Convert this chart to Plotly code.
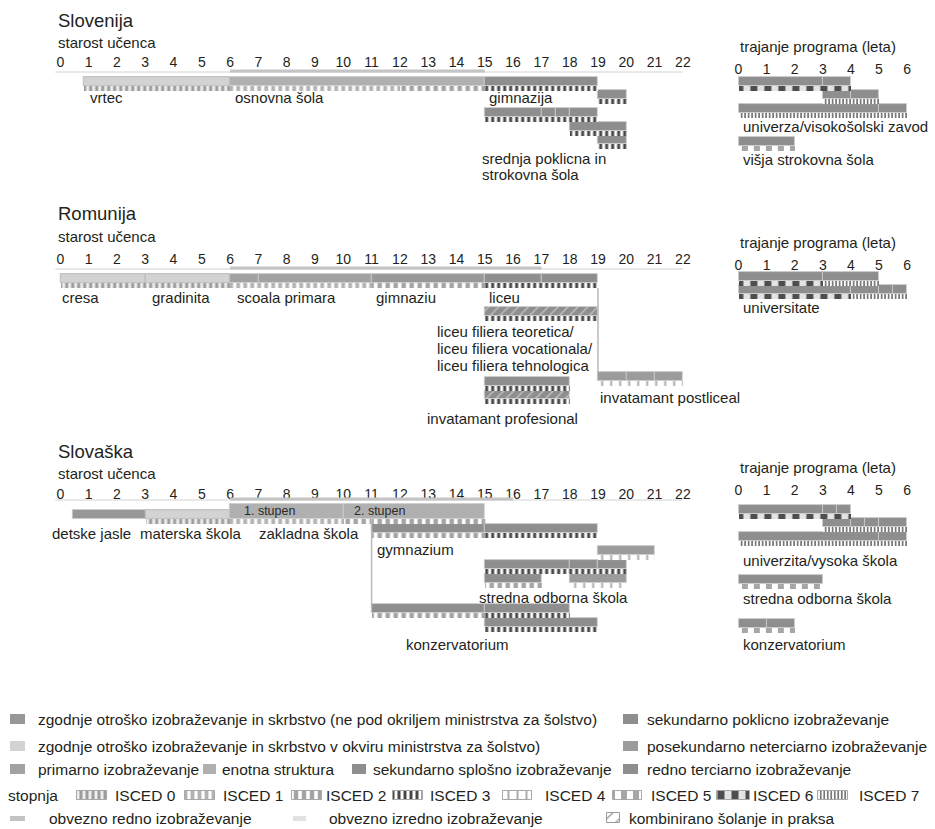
import plotly.graph_objects as go

W, H = 935, 829

# ============================ DATA ============================
AGE_TICKS = list(range(0, 23))          # starost učenca
DUR_TICKS = list(range(0, 7))           # trajanje programa (leta)

# compulsory full-time education (from age, to age)
SI_COMPULSORY = (6, 15)
RO_COMPULSORY = (6, 17)
SK_COMPULSORY = (6, 16)

# programme bars: (lane, start, end, category, combined school + work)
SI_BARS = [
    ("a", 0.83, 6, "ecec_min", False),
    ("a", 6, 15, "single", False),
    ("a", 15, 19, "sec_gen", False),
    ("b", 19, 20, "sec_gen", False),
    ("c", 15, 17, "sec_voc", False),
    ("c", 17, 17.5, "sec_voc", False),
    ("c", 17.5, 18, "sec_voc", False),
    ("c", 18, 19, "sec_voc", False),
    ("d", 18, 20, "sec_voc", False),
    ("e", 19, 20, "sec_voc", False),
]
# ISCED stripes: (lane, start, end, isced level)
SI_ISCED = [
    ("a", 0.83, 6, 0), ("a", 6, 12, 1), ("a", 12, 15, 2), ("a", 15, 19, 3),
    ("b", 19, 20, 3), ("c", 15, 19, 3), ("d", 18, 20, 3), ("e", 19, 20, 3),
]
SI_DUR_BARS = [
    ("a", 0, 3, "tert", False), ("a", 3, 4, "tert", False),
    ("b", 3, 4, "tert", False), ("b", 4, 5, "tert", False),
    ("c", 0, 5, "tert", False), ("c", 5, 6, "tert", False),
    ("d", 0, 2, "tert", False),
]
SI_DUR_ISCED = [("a", 0, 4, 6), ("b", 3, 5, 7), ("c", 0, 6, 7), ("d", 0, 2, 5)]

RO_BARS = [
    ("a", 0, 3, "ecec_min", False), ("a", 3, 6, "ecec_min", False),
    ("a", 6, 7, "primary", False), ("a", 7, 11, "primary", False),
    ("a", 11, 15, "lower_sec", False),
    ("a", 15, 17, "sec_gen", False), ("a", 17, 19, "sec_gen", False),
    ("b", 15, 19, "sec_gen", True),
    ("c", 15, 18, "sec_voc", False),
    ("d", 15, 18, "sec_voc", True),
    ("p", 19, 20, "post_sec", False), ("p", 20, 21, "post_sec", False),
    ("p", 21, 22, "post_sec", False),
]
RO_ISCED = [
    ("a", 0, 3, 0), ("a", 3, 6, 0), ("a", 6, 11, 1), ("a", 11, 15, 2),
    ("a", 15, 19, 3), ("b", 15, 19, 3), ("c", 15, 18, 3), ("d", 15, 18, 3),
    ("p", 19, 22, 4),
]
RO_DUR_BARS = [
    ("a", 0, 3, "tert", False), ("a", 3, 5, "tert", False),
    ("b", 0, 4, "tert", False), ("b", 4, 5, "tert", False),
    ("b", 5, 5.5, "tert", False), ("b", 5.5, 6, "tert", False),
]
RO_DUR_ISCED = [("a", 0, 3, 6), ("a", 3, 5, 7), ("b", 0, 4, 6), ("b", 4, 6, 7)]

SK_BARS = [
    ("a", 0.45, 3, "ecec_other", False), ("a", 3, 6, "ecec_min", False),
    ("z", 6, 10, "single", False), ("z", 10, 15, "single", False),
    ("b", 11, 15, "sec_gen", False), ("b", 15, 19, "sec_gen", False),
    ("c", 19, 21, "post_sec", False),
    ("d", 15, 18, "sec_voc", False), ("d", 18, 19, "sec_voc", False),
    ("d", 19, 20, "sec_voc", False),
    ("e", 15, 17, "sec_voc", False), ("e", 18, 20, "post_sec", False),
    ("f", 11, 15, "sec_voc", False), ("f", 15, 18, "sec_voc", False),
    ("g", 15, 19, "sec_voc", False),
]
SK_ISCED = [
    ("a", 3, 6, 0), ("z", 6, 10, 1), ("z", 10, 15, 2),
    ("b", 11, 15, 2), ("b", 15, 19, 3), ("c", 19, 21, 4),
    ("d", 15, 20, 3), ("e", 15, 17, 2), ("e", 18, 20, 4),
    ("f", 11, 15, 2), ("f", 15, 18, 3), ("g", 15, 19, 3),
]
SK_DUR_BARS = [
    ("a", 0, 3, "tert", False), ("a", 3, 3.5, "tert", False), ("a", 3.5, 4, "tert", False),
    ("b", 3, 4, "tert", False), ("b", 4, 4.5, "tert", False), ("b", 4.5, 5, "tert", False),
    ("b", 5, 6, "tert", False),
    ("c", 0, 5, "tert", False), ("c", 5, 6, "tert", False),
    ("d", 0, 3, "tert", False),
    ("e", 0, 1, "tert", False), ("e", 1, 2, "tert", False),
]
SK_DUR_ISCED = [("a", 0, 4, 6), ("b", 3, 6, 7), ("c", 0, 6, 7), ("d", 0, 3, 5), ("e", 0, 2, 5)]

CATEGORY_LABELS = {
    "ecec_other": "zgodnje otroško izobraževanje in skrbstvo (ne pod okriljem ministrstva za šolstvo)",
    "ecec_min": "zgodnje otroško izobraževanje in skrbstvo v okviru ministrstva za šolstvo)",
    "primary": "primarno izobraževanje",
    "single": "enotna struktura",
    "sec_gen": "sekundarno splošno izobraževanje",
    "sec_voc": "sekundarno poklicno izobraževanje",
    "post_sec": "posekundarno neterciarno izobraževanje",
    "tert": "redno terciarno izobraževanje",
}
ISCED_LEVELS = [0, 1, 2, 3, 4, 5, 6, 7]
OTHER_LABELS = ["obvezno redno izobraževanje", "obvezno izredno izobraževanje",
                "kombinirano šolanje in praksa"]

# ============================ STYLE / LAYOUT ============================
FONT = "Liberation Sans, Arial, Helvetica, sans-serif"
TXT = "#231f20"
LBL = 15            # programme label size
LEG = 15.5          # legend text size
FILL = {
    "ecec_other": "#979797", "ecec_min": "#d3d3d3", "primary": "#a2a2a2",
    "lower_sec": "#999999", "single": "#b0b0b0", "sec_gen": "#8e8e8e",
    "sec_voc": "#8e8e8e", "post_sec": "#9c9c9c", "tert": "#8e8e8e",
}
ISCED_STYLE = {
    0: dict(fgcolor="#9c9c9c", bgcolor="#eeeeee", size=6, solidity=0.5),
    1: dict(fgcolor="#b3b3b3", bgcolor="#ffffff", size=7, solidity=0.55),
    2: dict(fgcolor="#ffffff", bgcolor="#a4a4a4", size=8, solidity=0.45),
    3: dict(fgcolor="#474747", bgcolor="#ffffff", size=6, solidity=0.5),
    4: dict(fgcolor="#acacac", bgcolor="#ffffff", size=9, solidity=0.22),
    5: dict(fgcolor="#ffffff", bgcolor="#a6a6a6", size=12, solidity=0.5),
    6: dict(fgcolor="#4d4d4d", bgcolor="#e3e3e3", size=14, solidity=0.5),
    7: dict(fgcolor="#6a6a6a", bgcolor="#ffffff", size=3.5, solidity=0.45),
}
TOP_H = 9.0
STRIPE_H = 4.5

# pixel geometry of the two scales
AGE0_PX, AGE_STEP = 60.3, 28.3
DUR0_PX, DUR_STEP = 738.5, 28.1
AGE_RANGE = [-2, 23]
DUR_RANGE = [-0.2, 6.5]
TICK_OFF = 9.5  # axis position below tick-label centre

PANELS = [
    dict(title="Slovenija", xa="x", xd="x2", bars=SI_BARS, isced=SI_ISCED,
         dbars=SI_DUR_BARS, disced=SI_DUR_ISCED, comp=SI_COMPULSORY,
         title_y=20, sub_y=42, tick_y=60, line_y=72, dtitle_y=46, dtick_y=67,
         lanes=dict(a=77, b=90, c=108, d=122, e=135),
         dlanes=dict(a=77, b=90, c=104, d=137),
         labels=[("vrtec", 0.98, 97), ("osnovna šola", 6.1, 97), ("gimnazija", 15.07, 97),
                 ("srednja poklicna in", 14.83, 158), ("strokovna šola", 14.83, 174)],
         dlabels=[("univerza/visokošolski zavod", 0.08, 126), ("višja strokovna šola", 0.08, 159)],
         connectors=[]),
    dict(title="Romunija", xa="x3", xd="x4", bars=RO_BARS, isced=RO_ISCED,
         dbars=RO_DUR_BARS, disced=RO_DUR_ISCED, comp=RO_COMPULSORY,
         title_y=213, sub_y=236, tick_y=257, line_y=269, dtitle_y=242, dtick_y=263,
         lanes=dict(a=274, b=307, c=377, d=390, p=372),
         dlanes=dict(a=272, b=285),
         labels=[("cresa", 0.0, 297), ("gradinita", 3.17, 297), ("scoala primara", 6.17, 297),
                 ("gimnaziu", 11.1, 297), ("liceu", 15.08, 297),
                 ("liceu filiera teoretica/", 13.24, 331),
                 ("liceu filiera vocationala/", 13.24, 348),
                 ("liceu filiera tehnologica", 13.24, 365),
                 ("invatamant profesional", 12.89, 418),
                 ("invatamant postliceal", 19.0, 397)],
         dlabels=[("universitate", 0.08, 307)],
         connectors=[(19, 288, 373)]),
    dict(title="Slovaška", xa="x5", xd="x6", bars=SK_BARS, isced=SK_ISCED,
         dbars=SK_DUR_BARS, disced=SK_DUR_ISCED, comp=SK_COMPULSORY,
         title_y=451, sub_y=473, tick_y=492, line_y=500, dtitle_y=467, dtick_y=488,
         lanes=dict(a=510, z=(504, 15), b=524, c=546, d=560, e=574, f=604, g=618),
         dlanes=dict(a=505, b=518, c=532, d=575, e=619),
         labels=[("detske jasle", -0.36, 533), ("materska škola", 2.75, 533),
                 ("zakladna škola", 6.94, 533), ("gymnazium", 11.12, 549),
                 ("stredna odborna škola", 14.72, 597), ("konzervatorium", 12.14, 644)],
         small=[("1. stupen", 6.42, 511), ("2. stupen", 10.3, 511)],
         dlabels=[("univerzita/vysoka škola", 0.08, 560), ("stredna odborna škola", 0.08, 598),
                  ("konzervatorium", 0.08, 644)],
         connectors=[(11, 519, 608), (15, 519, 524)]),
]

fig = go.Figure()


def lane_geom(lanes, key):
    v = lanes[key]
    if isinstance(v, tuple):
        return v
    return v, TOP_H


def add_rect(xa, x0, x1, y0, h, color, pattern=None, lw=0.0, lc=None):
    fig.add_trace(go.Bar(
        orientation="h", base=[x0], x=[x1 - x0], y=[y0 + h / 2], width=[h],
        xaxis=xa, yaxis="y",
        marker=dict(color=color, line=dict(width=lw, color=lc or color),
                    pattern=pattern if pattern else dict(shape="")),
        hoverinfo="skip", showlegend=False))


def isced_pattern(level):
    st = ISCED_STYLE[level]
    return dict(shape="|", fillmode="replace", **st)


def hatch_pattern(cat):
    return dict(shape="/", fillmode="replace", fgcolor="#bdbdbd",
                bgcolor=FILL[cat], size=7, solidity=0.22)


def edge_color(cat):
    return "#b2b2b2" if cat == "ecec_min" else "#cdcdcd"


def draw_bars(xa, bars, stripes, lanes):
    for lane, s, e, cat, comb in bars:
        top, th = lane_geom(lanes, lane)
        add_rect(xa, s, e, top, th, FILL[cat],
                 pattern=hatch_pattern(cat) if comb else None,
                 lw=0.8, lc=edge_color(cat))
    for lane, s, e, lev in stripes:
        top, th = lane_geom(lanes, lane)
        add_rect(xa, s, e, top + th, STRIPE_H, "#ffffff", pattern=isced_pattern(lev))


shapes = []
annotations = []


def text(x, y, s, xref, size=LBL, color=TXT, xanchor="left"):
    annotations.append(dict(x=x, y=y, xref=xref, yref="y", text=s, showarrow=False,
                            xanchor=xanchor, yanchor="middle",
                            font=dict(family=FONT, size=size, color=color)))


axes = {}
for i, p in enumerate(PANELS):
    draw_bars(p["xa"], p["bars"], p["isced"], p["lanes"])
    draw_bars(p["xd"], p["dbars"], p["disced"], p["dlanes"])

    # axis base line and compulsory line
    shapes.append(dict(type="line", xref=p["xa"], yref="y", x0=-0.18, x1=22,
                       y0=p["line_y"], y1=p["line_y"], line=dict(color="#d2d2d2", width=1)))
    c0, c1 = p["comp"]
    shapes.append(dict(type="line", xref=p["xa"], yref="y", x0=c0, x1=c1,
                       y0=p["line_y"] - 1, y1=p["line_y"] - 1,
                       line=dict(color="#c4c4c4", width=3)))
    for xc, ya, yb in p["connectors"]:
        shapes.append(dict(type="line", xref=p["xa"], yref="y", x0=xc, x1=xc,
                           y0=ya, y1=yb, line=dict(color="#b9b9b9", width=1.5)))

    text(56 / W, p["title_y"], p["title"], "paper", size=18.5)
    text(56 / W, p["sub_y"], "starost učenca", "paper", size=15)
    text(738 / W, p["dtitle_y"], "trajanje programa (leta)", "paper", size=15)
    for s, xv, yv in p["labels"]:
        text(xv, yv, s, p["xa"])
    for s, xv, yv in p.get("small", []):
        text(xv, yv, s, p["xa"], size=12.5, color="#2a2a2a")
    for s, xv, yv in p["dlabels"]:
        text(xv, yv, s, p["xd"])

    age_dom = [(AGE0_PX + AGE_STEP * AGE_RANGE[0]) / W, (AGE0_PX + AGE_STEP * AGE_RANGE[1]) / W]
    dur_dom = [(DUR0_PX + DUR_STEP * DUR_RANGE[0]) / W, (DUR0_PX + DUR_STEP * DUR_RANGE[1]) / W]
    common = dict(side="top", anchor="free", showgrid=False, zeroline=False, showline=False,
                  ticks="", tickmode="array", fixedrange=True,
                  tickfont=dict(family=FONT, size=14, color=TXT))
    age_ax = dict(common, domain=age_dom, range=AGE_RANGE, tickvals=AGE_TICKS,
                  ticktext=[str(t) for t in AGE_TICKS],
                  position=1 - (p["tick_y"] + TICK_OFF) / H)
    dur_ax = dict(common, domain=dur_dom, range=DUR_RANGE, tickvals=DUR_TICKS,
                  ticktext=[str(t) for t in DUR_TICKS],
                  position=1 - (p["dtick_y"] + TICK_OFF) / H)
    if i > 0:
        age_ax["overlaying"] = "x"
        dur_ax["overlaying"] = "x2"
    axes["xaxis" if i == 0 else "xaxis%d" % (2 * i + 1)] = age_ax
    axes["xaxis%d" % (2 * i + 2)] = dur_ax

# ---------------- legend (own pixel-scaled axis x7) ----------------
LX = "x7"
ROW_Y = [719, 746, 769, 795, 818]
cat_items = [  # (category, swatch x0, swatch x1, text x, row)
    ("ecec_other", 10, 25, 36, 0), ("sec_voc", 623, 638, 645, 0),
    ("ecec_min", 10, 25, 36, 1), ("post_sec", 623, 638, 645, 1),
    ("primary", 10, 25, 36, 2), ("single", 203, 216, 220, 2),
    ("sec_gen", 352, 366, 371, 2), ("tert", 623, 638, 645, 2),
]


def legtext(x, y, s):
    annotations.append(dict(x=x, y=y, xref=LX, yref="y", text=s, showarrow=False,
                            xanchor="left", yanchor="middle",
                            font=dict(family=FONT, size=LEG, color=TXT)))


for cat, x0, x1, tx, r in cat_items:
    add_rect(LX, x0, x1, ROW_Y[r] - 5, 10, FILL[cat])
    legtext(tx, ROW_Y[r], CATEGORY_LABELS[cat])

legtext(6, ROW_Y[3], "stopnja")
isced_pos = [(77, 107, 113), (185, 215, 221), (292, 322, 324), (393, 423, 428),
             (503, 532, 543), (613, 642, 649), (717, 750, 751), (818, 848, 857)]
for lev, (x0, x1, tx) in zip(ISCED_LEVELS, isced_pos):
    add_rect(LX, x0, x1, ROW_Y[3] - 4.5, 9, "#ffffff", pattern=isced_pattern(lev),
             lw=1, lc="#a8a8a8")
    legtext(tx, ROW_Y[3], "ISCED %d" % lev)

add_rect(LX, 10, 25, ROW_Y[4] - 2.5, 5, "#c4c4c4")
add_rect(LX, 293, 306, ROW_Y[4] - 2.5, 5, "#e2e2e2")
add_rect(LX, 607, 620, ROW_Y[4] - 5, 10, "#ffffff",
         pattern=dict(shape="/", fillmode="replace", fgcolor="#9a9a9a", bgcolor="#ffffff",
                      size=9, solidity=0.15), lw=1, lc="#9a9a9a")
for s, tx in zip(OTHER_LABELS, [47, 327, 627]):
    legtext(tx, ROW_Y[4], s)

axes["xaxis7"] = dict(domain=[0, 1], range=[0, W], anchor="free", position=0,
                      visible=False, fixedrange=True)

fig.update_layout(
    width=W, height=H, margin=dict(l=0, r=0, t=0, b=0),
    paper_bgcolor="white", plot_bgcolor="rgba(0,0,0,0)",
    barmode="overlay", bargap=0, showlegend=False,
    yaxis=dict(domain=[0, 1], range=[H, 0], visible=False, fixedrange=True),
    shapes=shapes, annotations=annotations,
    font=dict(family=FONT, color=TXT),
    **axes,
)

fig.write_html(
    "out.html",
    config={"displayModeBar": False},
    post_script="document.body.style.margin='0px';document.body.style.padding='0px';"
                "document.body.style.overflow='hidden';",
)
